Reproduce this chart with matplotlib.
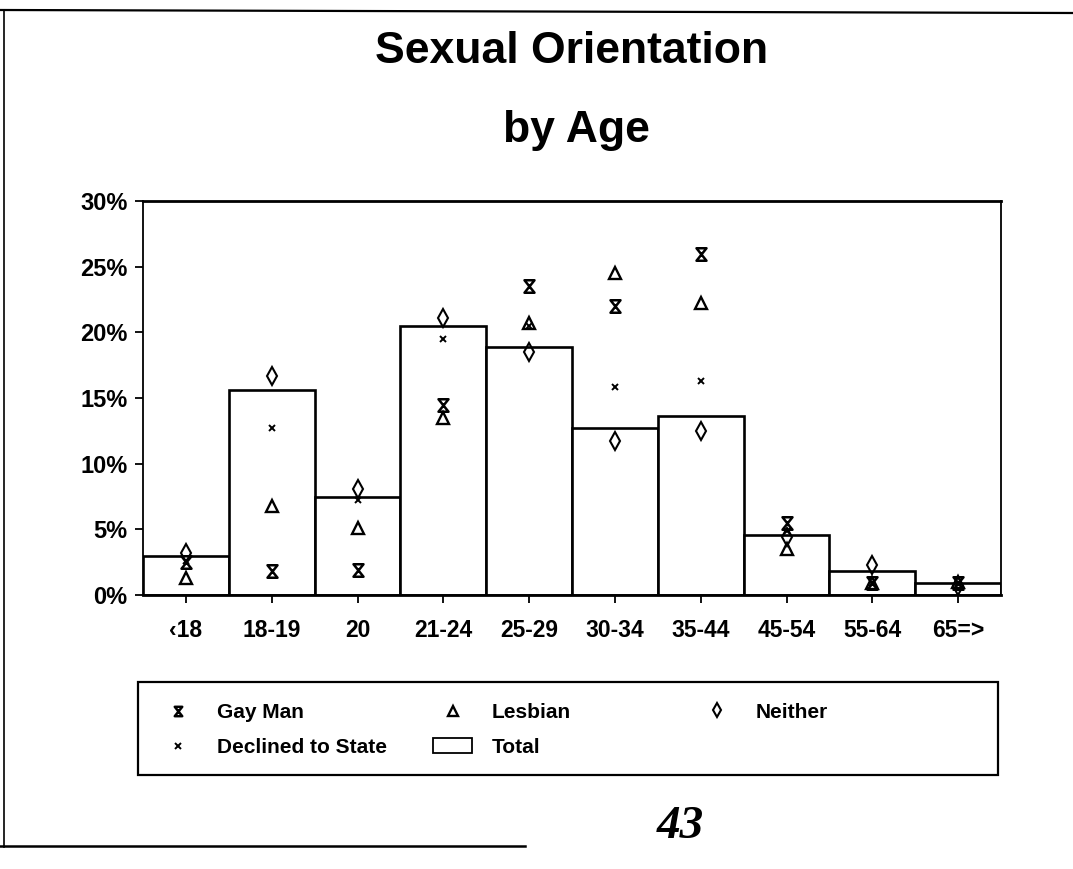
import matplotlib
matplotlib.use("Agg")
import matplotlib.pyplot as plt
from matplotlib.path import Path
from matplotlib.lines import Line2D
import numpy as np

# ---- data ----
categories = ['\u203918', '18-19', '20', '21-24', '25-29', '30-34', '35-44', '45-54', '55-64', '65=>']
total = [3.0, 15.6, 7.5, 20.5, 18.9, 12.7, 13.6, 4.6, 1.8, 0.9]
gay_man = [2.5, 1.8, 1.9, 14.5, 23.5, 22.0, 26.0, 5.5, 0.9, 0.9]
lesbian = [1.3, 6.8, 5.1, 13.5, 20.7, 24.5, 22.2, 3.5, 0.9, 1.0]
neither = [3.2, 16.7, 8.1, 21.1, 18.5, 11.7, 12.5, 4.4, 2.3, 0.7]
declined = [2.6, 12.7, 7.2, 19.5, 20.5, 15.8, 16.3, 4.9, 0.9, 0.9]
yticks = [0, 5, 10, 15, 20, 25, 30]
title_lines = ['Sexual Orientation', 'by Age']
page_number = '43'

FONT = 'Liberation Sans'
W, H = 1073, 869
fig = plt.figure(figsize=(W / 100, H / 100), dpi=100)
fig.patch.set_facecolor('white')

def fx(px):
    return px / W

def fy(py):
    return 1 - py / H

ax = fig.add_axes([fx(143), fy(595), fx(1001) - fx(143), fy(201) - fy(595)])
x = np.arange(len(categories))

bars = ax.bar(x, total, width=1.0, color='white', edgecolor='black', linewidth=1.9,
              zorder=2, label='Total')

hourglass = Path([(-0.8, 1), (0.8, 1), (-0.8, -1), (0.8, -1), (-0.8, 1)],
                 [Path.MOVETO, Path.LINETO, Path.LINETO, Path.LINETO, Path.CLOSEPOLY])

l_gay, = ax.plot(x, gay_man, ls='none', marker=hourglass, ms=9, mfc='white', mec='black',
                 mew=1.8, zorder=4, label='Gay Man')
l_les, = ax.plot(x, lesbian, ls='none', marker='^', ms=9, mfc='none', mec='black',
                 mew=1.7, zorder=4, label='Lesbian')
l_nei, = ax.plot(x, neither, ls='none', marker='d', ms=9, mfc='none', mec='black',
                 mew=1.5, zorder=4, label='Neither')
l_dec, = ax.plot(x, declined, ls='none', marker='x', ms=5, mec='black',
                 mew=1.4, zorder=4, label='Declined to State')

ax.set_xlim(-0.5, len(categories) - 0.5)
ax.set_ylim(0, 30)
ax.set_yticks(yticks)
ax.set_yticklabels([f'{v}%' for v in yticks], fontfamily=FONT, fontweight='bold', fontsize=17)
ax.set_xticks(x)
ax.set_xticklabels(categories, fontfamily=FONT, fontweight='bold', fontsize=16.5)
ax.tick_params(axis='y', direction='out', length=6, width=1.3, pad=5)
ax.tick_params(axis='x', direction='out', length=6, width=1.3, pad=11)
for side in ['top', 'bottom']:
    ax.spines[side].set_linewidth(2.0)
for side in ['left', 'right']:
    ax.spines[side].set_linewidth(1.3)

# ---- title ----
fig.text(fx(572), fy(63), title_lines[0], ha='center', va='baseline',
         fontfamily=FONT, fontweight='bold', fontsize=32)
fig.text(fx(576), fy(142), title_lines[1], ha='center', va='baseline',
         fontfamily=FONT, fontweight='bold', fontsize=32)

# ---- legend ----
frame = plt.Rectangle((fx(138), fy(775)), fx(998) - fx(138), fy(682) - fy(775),
                      transform=fig.transFigure, fill=False, edgecolor='black', linewidth=1.6)
fig.add_artist(frame)

leg_kw = dict(frameon=False, borderpad=0, borderaxespad=0, handlelength=1.875,
              handleheight=0.7, handletextpad=0.94, labelspacing=0.75, markerscale=0.75,
              prop={'family': FONT, 'weight': 'bold', 'size': 15},
              bbox_transform=fig.transFigure)
leg1 = fig.legend([l_gay, l_dec], ['Gay Man', 'Declined to State'], loc='center left',
                  bbox_to_anchor=(fx(158.5), fy(730)), **leg_kw)
leg2 = fig.legend([l_les, bars], ['Lesbian', 'Total'], loc='center left',
                  bbox_to_anchor=(fx(433), fy(730)), **leg_kw)
leg3 = fig.legend([l_nei], ['Neither'], loc='center left',
                  bbox_to_anchor=(fx(697), fy(712)), **leg_kw)
for lg in (leg1, leg2, leg3):
    for p in lg.get_patches():
        p.set_linewidth(1.3)

# ---- page number ----
fig.text(fx(680), fy(838), page_number, ha='center', va='baseline',
         fontfamily='Liberation Serif', fontweight='bold', fontstyle='italic', fontsize=34)

# ---- page border ----
fig.add_artist(Line2D([0, 1], [fy(10), fy(13)], transform=fig.transFigure, color='black', lw=1.6))
fig.add_artist(Line2D([fx(4), fx(4)], [fy(10), fy(847)], transform=fig.transFigure, color='black', lw=1.2))
fig.add_artist(Line2D([0, fx(525)], [fy(846), fy(846)], transform=fig.transFigure, color='black', lw=1.8))

fig.savefig('out.png', dpi=100, facecolor='white')
